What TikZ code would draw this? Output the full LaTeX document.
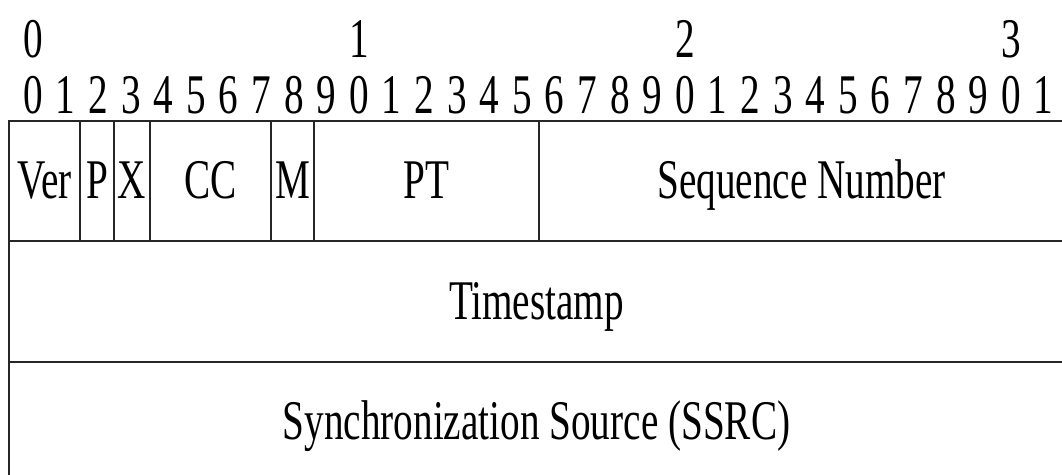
\documentclass[tikz,border=0pt]{standalone}
\usepackage{fontspec}
\setmainfont[FakeStretch=0.70]{Liberation Serif}
\begin{document}
\begin{tikzpicture}[x=1pt,y=-1pt,
  field/.style={draw=black!85, line width=1.6pt, rectangle, inner sep=0pt,
    minimum height=120.5pt, text height=35pt, text depth=0pt,
    font=\fontsize{56}{62}\selectfont},
  bitnum/.style={inner sep=0pt, anchor=base, font=\fontsize{56}{62}\selectfont}]
\useasboundingbox (0,0) rectangle (1062,474);
% bit numbers
\foreach \i/\d in {0/0,10/1,20/2,30/3}
  \node[bitnum] (t\d) at ({33+\i*32.6},57) {\d};
\foreach \i in {0,...,31} {
  \pgfmathtruncatemacro\d{mod(\i,10)}
  \node[bitnum] (b\i) at ({33+\i*32.6},113) {\d};
}
% first word
\node[field, minimum width=71pt]  (ver) at (44.5,181)  {Ver};
\node[field, minimum width=34pt]  (p)   at (97,181)    {P};
\node[field, minimum width=36pt]  (x)   at (132,181)   {X};
\node[field, minimum width=121pt] (cc)  at (210.5,181) {CC};
\node[field, minimum width=43pt]  (m)   at (292.5,181) {M};
\node[field, minimum width=225pt] (pt)  at (426.5,181) {PT};
\node[field, minimum width=525pt] (seq) at (801.5,181) {Sequence Number};
% second and third word
\node[field, minimum width=1055pt] (ts)   at (536.5,301.5) {Timestamp};
\node[field, minimum width=1055pt] (ssrc) at (536.5,422)   {Synchronization Source (SSRC)};
\end{tikzpicture}
\end{document}
